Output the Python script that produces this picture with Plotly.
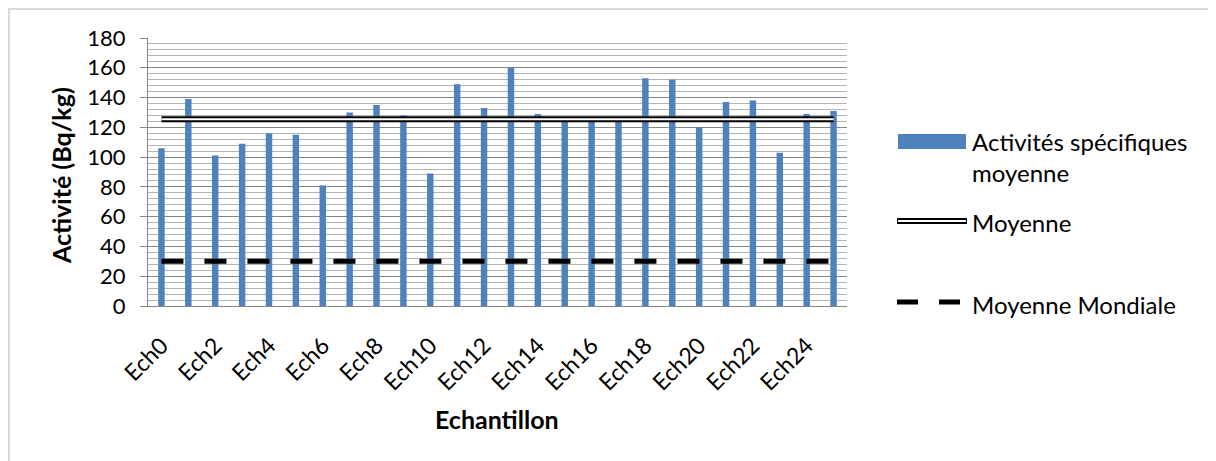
import plotly.graph_objects as go

categories = [f"Ech{i}" for i in range(26)]
activites = [106, 139, 101, 109, 116, 115, 81, 130, 135, 128, 89, 149, 133,
             160, 129, 127, 127, 125, 153, 152, 120, 137, 138, 103, 129, 131]
moyenne = [125.5] * 26
moyenne_mondiale = [30] * 26
tick_labels = categories[::2]

FONT = "Lato"
BODY = 8                      # default page body margin
W, H = 1216 - BODY, 461 - BODY
L, R, T, B = 148, 847, 38, 306  # plot area in page pixels


def px(x):
    return (x - L) / (R - L)


def py(y):
    return (B - y) / (B - T)


fig = go.Figure()
fig.add_trace(go.Bar(x=categories, y=activites, marker_color="#4f81bd",
                     marker_line_width=0, showlegend=False))
fig.add_trace(go.Scatter(x=categories, y=moyenne, mode="lines",
                         line=dict(color="black", width=6), showlegend=False))
fig.add_trace(go.Scatter(x=categories, y=moyenne, mode="lines",
                         line=dict(color="white", width=2), showlegend=False))
fig.add_trace(go.Scatter(x=categories, y=moyenne_mondiale, mode="lines",
                         line=dict(color="black", width=5, dash="22px,21px"),
                         showlegend=False))

shapes = [
    dict(type="rect", xref="paper", yref="paper", x0=px(9), x1=px(1240),
         y0=py(9), y1=py(490), line=dict(color="#d9d9d9", width=2), layer="below"),
    dict(type="rect", xref="paper", yref="paper", x0=px(898), x1=px(966),
         y0=py(134), y1=py(149), fillcolor="#4f81bd", line=dict(width=0)),
    dict(type="line", xref="paper", yref="paper", x0=px(897), x1=px(967),
         y0=py(221), y1=py(221), line=dict(color="black", width=6)),
    dict(type="line", xref="paper", yref="paper", x0=px(898), x1=px(966),
         y0=py(221), y1=py(221), line=dict(color="white", width=2)),
    dict(type="line", xref="paper", yref="paper", x0=px(897), x1=px(918),
         y0=py(302), y1=py(302), line=dict(color="black", width=5)),
    dict(type="line", xref="paper", yref="paper", x0=px(939), x1=px(960),
         y0=py(302), y1=py(302), line=dict(color="black", width=5)),
]

LEG = dict(family=FONT, size=24, color="black")
annotations = [
    dict(text="Activités spécifiques<br>moyenne", xref="paper", yref="paper",
         x=px(970), y=py(157), xanchor="left", yanchor="middle", align="left",
         showarrow=False, font=LEG),
    dict(text="Moyenne", xref="paper", yref="paper",
         x=px(970), y=py(222), xanchor="left", yanchor="middle", align="left",
         showarrow=False, font=LEG),
    dict(text="Moyenne Mondiale", xref="paper", yref="paper",
         x=px(970), y=py(304), xanchor="left", yanchor="middle", align="left",
         showarrow=False, font=LEG),
    dict(text="<b>Echantillon</b>", xref="paper", yref="paper",
         x=px(497), y=py(419), xanchor="center", yanchor="middle",
         showarrow=False, font=dict(family=FONT, size=25, color="black")),
    dict(text="<b>Activité (Bq/kg)</b>", xref="paper", yref="paper",
         x=px(61), y=py(176), xanchor="center", yanchor="middle", textangle=-90,
         showarrow=False, font=dict(family=FONT, size=25, color="black")),
]

fig.update_layout(
    width=W, height=H,
    margin=dict(l=L - BODY, r=W - (R - BODY), t=T - BODY, b=H - (B - BODY),
                autoexpand=False),
    paper_bgcolor="white", plot_bgcolor="white",
    bargap=0.76,
    font=dict(family=FONT, size=22, color="black"),
    shapes=shapes, annotations=annotations,
    showlegend=False,
)
fig.update_xaxes(
    type="category", categoryorder="array", categoryarray=categories,
    tickmode="array", tickvals=tick_labels, ticktext=tick_labels,
    tickangle=-45, ticks="", showgrid=False, ticklabelstandoff=16,
    showline=True, linecolor="#868686", linewidth=1,
    tickfont=dict(family=FONT, size=23, color="black"),
)
fig.update_yaxes(
    range=[0, 180], dtick=20, tick0=0,
    showgrid=True, gridcolor="#868686", gridwidth=1,
    minor=dict(dtick=4, showgrid=True, gridcolor="#b4b4b4", gridwidth=1),
    ticks="outside", ticklen=7, tickcolor="#868686",
    showline=True, linecolor="#868686", linewidth=1,
    zeroline=False, ticklabelstandoff=10,
    tickfont=dict(family=FONT, size=22, color="black"),
)

fig.write_html("out.html")
